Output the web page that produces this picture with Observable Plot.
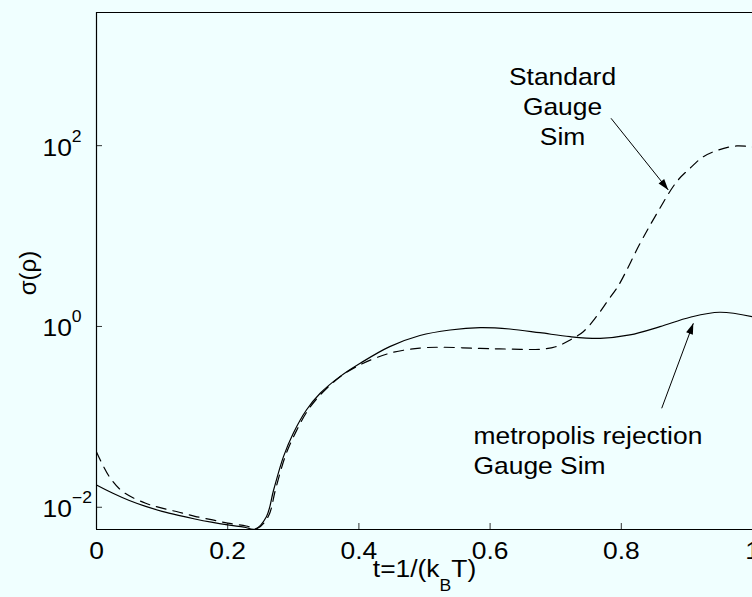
<!DOCTYPE html>
<html><head><meta charset="utf-8">
<script src="https://cdn.jsdelivr.net/npm/d3@7"></script>
<script src="https://cdn.jsdelivr.net/npm/@observablehq/plot@0.6"></script>
<style>
html,body{margin:0;padding:0;background:#f0ffff;overflow:hidden;}
#chart svg{display:block;}
</style></head><body><div id="chart"></div>
<script>
// ---- data (x = t = 1/(k_B T), values given as log10 sigma(rho)) ----
const tStandard = [0, 0.0195, 0.040, 0.075, 0.10, 0.126, 0.15, 0.177, 0.20, 0.228, 0.245, 0.262, 0.273, 0.288, 0.303, 0.322, 0.342, 0.37, 0.40, 0.447, 0.493, 0.524, 0.585, 0.63, 0.676, 0.70, 0.722, 0.742, 0.762, 0.780, 0.796, 0.829, 0.851, 0.8845, 0.9047, 0.925, 0.948, 0.976, 1.0];
const logSigmaStandard = [-1.388, -1.661, -1.827, -1.956, -2.010, -2.055, -2.100, -2.140, -2.175, -2.207, -2.235, -2.10, -1.80, -1.43, -1.18, -0.93, -0.75, -0.565, -0.43, -0.296, -0.239, -0.230, -0.243, -0.25, -0.252, -0.224, -0.149, -0.058, 0.108, 0.292, 0.457, 0.924, 1.21, 1.602, 1.750, 1.878, 1.952, 1.997, 1.985];

const tMetropolis = [0, 0.025, 0.05, 0.075, 0.10, 0.125, 0.15, 0.175, 0.20, 0.225, 0.242, 0.259, 0.270, 0.285, 0.300, 0.320, 0.341, 0.371, 0.402, 0.447, 0.493, 0.539, 0.585, 0.630, 0.676, 0.722, 0.768, 0.813, 0.859, 0.905, 0.950, 1.0];
const logSigmaMetropolis = [-1.753, -1.845, -1.925, -1.990, -2.045, -2.090, -2.130, -2.165, -2.195, -2.220, -2.240, -2.104, -1.809, -1.440, -1.181, -0.924, -0.739, -0.555, -0.407, -0.223, -0.100, -0.039, -0.013, -0.028, -0.069, -0.113, -0.131, -0.094, -0.002, 0.102, 0.157, 0.108];

const xTicks = [0, 0.2, 0.4, 0.6, 0.8, 1];
const xTickLabels = ["0", "0.2", "0.4", "0.6", "0.8", "1"];
const yTickExponents = [-2, 0, 2];
const yTickLabels = ["10^\u22122", "10^0", "10^2"];
const xDomain = [0, 1];
const yDomainExponents = [-2.246, 3.473];
const xLabel = "t=1/(k_BT)";
const yLabel = "\u03c3(\u03c1)";

// annotations (data coordinates: t, log10 sigma)
const annotationTexts = ["Standard\nGauge\nSim", "metropolis rejection\nGauge Sim"];
const annotationT = [0.7104, 0.5747];
const annotationLog = [2.002, -1.629];
const annotationAnchor = ["middle", "start"];
const arrowT1 = [0.7843, 0.8616];
const arrowLog1 = [2.303, -0.905];
const arrowT2 = [0.8716, 0.9098];
const arrowLog2 = [1.510, 0.035];

// ---- build tables ----
const standard = tStandard.map((t, i) => ({t, s: 10 ** logSigmaStandard[i]}));
const metropolis = tMetropolis.map((t, i) => ({t, s: 10 ** logSigmaMetropolis[i]}));
const yTicks = yTickExponents.map(e => 10 ** e);
const yTickTable = yTicks.map((v, i) => ({v, label: yTickLabels[i]}));
const xTickTable = xTicks.map((v, i) => ({v, label: xTickLabels[i]}));
const annotations = annotationTexts.map((text, i) => ({text, t: annotationT[i], s: 10 ** annotationLog[i], anchor: annotationAnchor[i]}));
const arrows = arrowT1.map((t1, i) => ({t1, s1: 10 ** arrowLog1[i], t2: arrowT2[i], s2: 10 ** arrowLog2[i]}));
const yMin = 10 ** yDomainExponents[0], yMax = 10 ** yDomainExponents[1];

const FONT = "'Liberation Sans', Arial, Helvetica, sans-serif";
const W = 752, H = 597, ML = 96, MR = 0, MT = 12, MB = 68;

const chart = Plot.plot({
  width: W, height: H,
  marginLeft: ML, marginRight: MR, marginTop: MT, marginBottom: MB,
  style: {background: "#f0ffff", fontFamily: FONT, fontSize: "24px", color: "black", overflow: "visible"},
  x: {domain: xDomain, axis: null},
  y: {type: "log", domain: [yMin, yMax], axis: null},
  marks: [
    Plot.ruleY([yMin, yMax], {stroke: "black", strokeWidth: 1.2}),
    Plot.ruleX([0], {stroke: "black", strokeWidth: 1.2}),
    Plot.tickX(xTicks, {x: d => d, stroke: "black", strokeWidth: 0.8, insetTop: 511}),
    Plot.tickY(yTicks, {y: d => d, stroke: "black", strokeWidth: 0.8, insetRight: 650}),
    Plot.line(metropolis, {x: "t", y: "s", stroke: "black", strokeWidth: 1.2, curve: "catmull-rom"}),
    Plot.line(standard, {x: "t", y: "s", stroke: "black", strokeWidth: 1.2, strokeDasharray: "10,7", curve: "catmull-rom"}),
    Plot.text(xTickTable, {x: "v", text: "label", frameAnchor: "bottom", dy: 29.5, lineAnchor: "bottom", textAnchor: "middle", fontSize: 24, fill: "black"}),
    Plot.text(yTickTable, {y: "v", text: "label", frameAnchor: "left", dx: -54, dy: 10, lineAnchor: "bottom", textAnchor: "start", fontSize: 24, fill: "black"}),
    Plot.text([xLabel], {text: d => d, frameAnchor: "bottom", dy: 47, lineAnchor: "bottom", textAnchor: "middle", fontSize: 24, fill: "black"}),
    Plot.text([yLabel], {text: d => d, frameAnchor: "left", dx: -68, dy: 2, rotate: -90, lineAnchor: "middle", textAnchor: "middle", fontSize: 24, fill: "black"}),
    Plot.text(annotations.filter(a => a.anchor === "middle"), {x: "t", y: "s", text: "text", textAnchor: "middle", lineAnchor: "bottom", lineHeight: 1.25, fontSize: 24, fill: "black"}),
    Plot.text(annotations.filter(a => a.anchor === "start"), {x: "t", y: "s", text: "text", textAnchor: "start", lineAnchor: "bottom", lineHeight: 1.25, fontSize: 24, fill: "black"}),
    Plot.link(arrows, {x1: "t1", y1: "s1", x2: "t2", y2: "s2", stroke: "black", strokeWidth: 1, markerEnd: "arrow"})
  ]
});

// ---- post-processing: superscripts / subscripts, filled arrow heads, text stretch ----
const NS = "http://www.w3.org/2000/svg";
function span(parent, txt, attrs) {
  const s = document.createElementNS(NS, "tspan");
  s.textContent = txt;
  for (const k in attrs) s.setAttribute(k, attrs[k]);
  parent.appendChild(s);
}
chart.querySelectorAll("text").forEach(t => {
  const c = t.textContent;
  if (t.children.length === 0 && c.includes("^")) {
    const [base, exp] = c.split("^");
    t.textContent = "";
    span(t, base, {});
    span(t, exp, {dy: "-14", "font-size": "16"});
  } else if (t.children.length === 0 && c.includes("_")) {
    const m = c.match(/^(.*)_(.)(.*)$/);
    t.textContent = "";
    span(t, m[1], {});
    span(t, m[2], {dy: "15", "font-size": "16"});
    span(t, m[3], {dy: "-15"});
  }
});
chart.querySelectorAll("marker").forEach(mk => {
  mk.setAttribute("viewBox", "-12 -4 13 8");
  mk.setAttribute("markerWidth", "13");
  mk.setAttribute("markerHeight", "8");
  mk.setAttribute("markerUnits", "userSpaceOnUse");
  mk.setAttribute("fill", "black");
  mk.setAttribute("stroke", "none");
  const p = mk.querySelector("path");
  if (p) p.setAttribute("d", "M-11,-3.6L0,0L-11,3.6Z");
});
chart.querySelectorAll("text").forEach(t => {
  const tr = t.getAttribute("transform") || "";
  if (tr.includes("rotate")) return;
  t.setAttribute("transform", tr + " scale(1.1,1)");
});
document.getElementById("chart").appendChild(chart);
</script>
</body></html>
